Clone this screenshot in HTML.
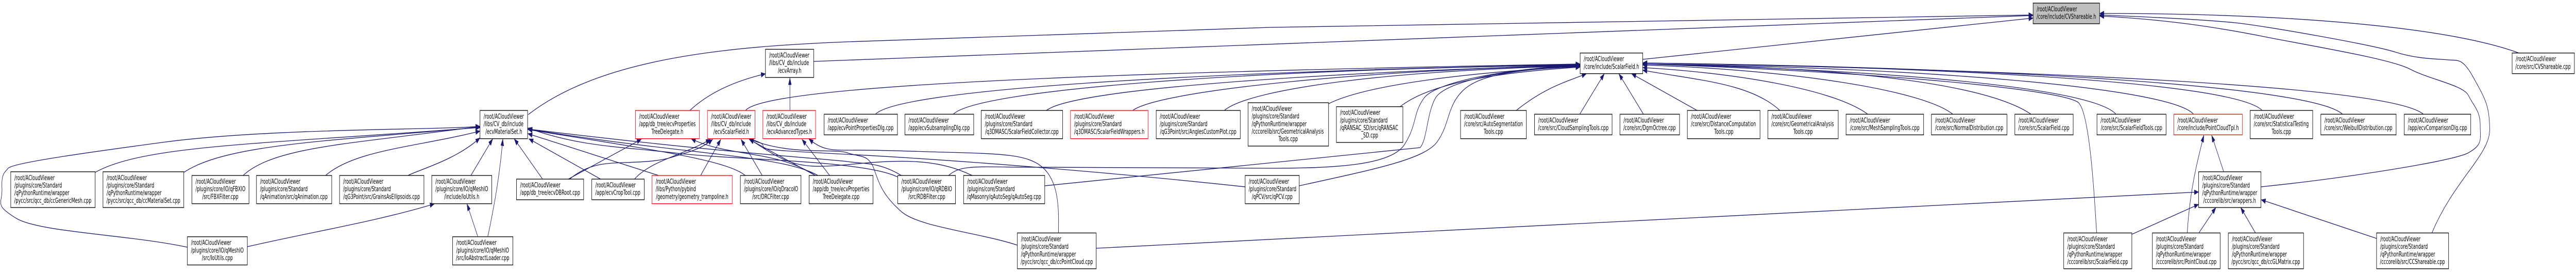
<!DOCTYPE html>
<html><head><meta charset="utf-8"><style>
html,body{margin:0;padding:0;background:#fff;width:100%;height:100%;overflow:hidden}
svg{display:block;width:100vw;height:100vh}
text{font-family:"DejaVu Sans",sans-serif;font-size:12.9px;fill:#000}
.m{text-anchor:middle}
rect{fill:#fff;stroke:#000;stroke-width:1.33}
rect.r{stroke:#f00}
rect.g{fill:#bfbfbf}
#e path{fill:none;stroke:#191970;stroke-width:1.33;marker-end:url(#a)}
</style></head><body>
<svg xmlns="http://www.w3.org/2000/svg" viewBox="0 0 7905 527" preserveAspectRatio="none">
<defs><marker id="a" markerWidth="15" markerHeight="11" refX="13.3" refY="4.7" orient="auto" markerUnits="userSpaceOnUse" overflow="visible"><path d="M0 0L13.3 4.7L0 9.4z" fill="#191970" style="stroke:#191970;stroke-width:.5"/></marker></defs>
<g id="e">
<path d="M292 334C430 285 750 280 1300 255S1420 248 1473 245"/>
<path d="M564 334C680 285 950 275 1300 256S1420 248 1473 246"/>
<path d="M746 340C830 290 1040 280 1300 259S1420 250 1473 247"/>
<path d="M999 340C1090 290 1280 285 1473 254"/>
<path d="M1252 340C1280 330 1400 310 1473 267"/>
<path d="M575 479C400 455 120 450 50 423S8 395 6 366S12 336 25 326S250 297 497 276S1100 252 1300 249S1420 246 1473 245"/>
<path d="M759 478C950 450 1150 430 1333 395"/>
<path d="M1445 340L1512 269"/>
<path d="M1466 458L1433 395"/>
<path d="M1497 458C1520 390 1535 330 1543 269"/>
<path d="M1665 347L1578 269"/>
<path d="M1843 347L1623 269"/>
<path d="M2021 340L1620 259"/>
<path d="M2287 340C2230 310 2000 290 1620 251"/>
<path d="M2510 340C2400 300 2100 300 1620 250"/>
<path d="M2755 343C2650 310 2250 310 2080 297S1780 285 1620 248"/>
<path d="M3821 362C3500 340 3000 312 2600 299S2420 290 2299 269"/>
<path d="M3122 475C3000 450 2820 440 2766 410S2700 360 2683 329S2640 305 2600 296S2420 302 2299 269"/>
<path d="M2983 340C2870 305 2750 310 2600 319S2420 320 2299 269"/>
<path d="M2766 340C2700 315 2660 318 2600 313S2200 295 1620 250"/>
<path d="M3248 451C3250 400 3248 350 3197 323S3050 298 2849 294S2650 291 2600 291S2520 290 2482 269"/>
<path d="M2288 214C2350 165 3400 140 4849 124"/>
<path d="M2687 221C2760 175 3600 140 4849 125"/>
<path d="M2926 221C3000 175 3800 135 4849 126"/>
<path d="M3211 214C3300 170 4100 140 4849 126"/>
<path d="M3476 214C3560 175 4200 135 4849 127"/>
<path d="M3757 214C3840 170 4300 135 4849 128"/>
<path d="M4077 201C4190 165 4500 140 4849 129"/>
<path d="M4296 207C4390 160 4600 140 4849 130"/>
<path d="M4653 214C4740 170 4800 160 4868 143"/>
<path d="M4848 221L4923 143"/>
<path d="M5043 221L4968 143"/>
<path d="M5208 214L5007 143"/>
<path d="M3206 360L4358 286C4380 270 4378 220 4405 190S4600 135 4849 127"/>
<path d="M2911 340C2950 318 3000 324 3180 324L3900 326C4100 326 4270 320 4310 280S4335 220 4370 190S4600 135 4849 126"/>
<path d="M3987 360C4200 330 4370 310 4410 275S4440 205 4490 175S4650 135 4849 128"/>
<path d="M5462 214C5370 160 5200 155 5041 136"/>
<path d="M5731 221C5620 170 5300 140 5041 131"/>
<path d="M5992 221C5900 175 5500 135 5041 126"/>
<path d="M6232 221C6100 165 5700 130 5041 124"/>
<path d="M6493 221C6420 170 5800 135 5041 124"/>
<path d="M6434 451C6425 360 6412 225 6380 200S5800 140 5041 124"/>
<path d="M6731 221C6660 170 5900 130 5041 124"/>
<path d="M6942 214C6860 160 6000 130 5041 122"/>
<path d="M7188 221C7090 165 6100 130 5041 122"/>
<path d="M7436 221C7330 165 6200 135 5041 122"/>
<path d="M5041 115L6239 35"/>
<path d="M1621 222C1850 110 2250 90 2600 81S3400 60 3900 53S5000 38 6239 29"/>
<path d="M2497 119C3000 105 4300 70 6239 30"/>
<path d="M2117 214Q2200 165 2349 143"/>
<path d="M2424 214L2424 151"/>
<path d="M1744 347L1968 270"/>
<path d="M2502 340C2380 290 2240 305 2121 269"/>
<path d="M1748 347C1790 325 1830 318 1880 316S2010 315 2060 305S2150 290 2187 270"/>
<path d="M1947 347C2000 310 2100 300 2180 270"/>
<path d="M2150 340L2212 270"/>
<path d="M2339 340L2274 270"/>
<path d="M2502 340L2299 270"/>
<path d="M2546 340L2461 270"/>
<path d="M6938 362C7200 345 7530 312 7575 296S7611 270 7611 242S7590 205 7575 185S7456 154 7396 134S7100 90 6948 71S6650 38 6443 31"/>
<path d="M7463 451C7530 350 7640 300 7640 252S7625 190 7590 150S7540 118 7512 116S7420 115 7351 101S6950 50 6858 44S6600 33 6443 29"/>
<path d="M7729 102.500C7500 50 7000 26 6443 26"/>
<path d="M6712 451C6720 370 6740 320 6763 262"/>
<path d="M6824 333L6787 262"/>
<path d="M6748 451L6800 402"/>
<path d="M6921 451L6876 402"/>
<path d="M7293 462L6939 387"/>
<path d="M6542 454L6747 396"/>
<path d="M3364 481L6747 372"/>
</g>
<g>
<!-- Row 0 -->
<rect class="g" x="6239" y="6" width="204" height="40"/><text x="6250" y="22">/root/ACloudViewer</text><text class="m" x="6341" y="36.700">/core/include/CVShareable.h</text>
<!-- Row 1 -->
<rect x="4849" y="102.700" width="192" height="40"/><text x="4860" y="118.700">/root/ACloudViewer</text><text class="m" x="4945" y="133.400">/core/include/ScalarField.h</text>
<rect x="7709" y="102.700" width="191" height="40"/><text x="7720" y="118.700">/root/ACloudViewer</text><text class="m" x="7804" y="133.400">/core/src/CVShareable.cpp</text>
<rect x="2349" y="95.500" width="148" height="54.700"/><text x="2360" y="111.500">/root/ACloudViewer</text><text x="2360" y="126.200">/libs/CV_db/include</text><text class="m" x="2423" y="140.900">/ecvArray.h</text>
<!-- Row 2 three line -->
<rect x="1473" y="214" width="146" height="54.700"/><text x="1484" y="230">/root/ACloudViewer</text><text x="1484" y="244.700">/libs/CV_db/include</text><text class="m" x="1546" y="259.400">/ecvMaterialSet.h</text>
<rect class="r" x="1950" y="214" width="196" height="54.700"/><text x="1961" y="230">/root/ACloudViewer</text><text x="1961" y="244.700">/app/db_tree/ecvProperties</text><text class="m" x="2048" y="259.400">TreeDelegate.h</text>
<rect class="r" x="2171" y="214" width="146" height="54.700"/><text x="2182" y="230">/root/ACloudViewer</text><text x="2182" y="244.700">/libs/CV_db/include</text><text class="m" x="2244" y="259.400">/ecvScalarField.h</text>
<rect class="r" x="2341" y="214" width="162" height="54.700"/><text x="2352" y="230">/root/ACloudViewer</text><text x="2352" y="244.700">/libs/CV_db/include</text><text class="m" x="2422" y="259.400">/ecvAdvancedTypes.h</text>
<rect x="3011" y="214" width="250" height="54.700"/><text x="3022" y="230">/root/ACloudViewer</text><text x="3022" y="244.700">/plugins/core/Standard</text><text class="m" x="3136" y="259.400">/q3DMASC/ScalarFieldCollector.cpp</text>
<rect class="r" x="3285" y="214" width="238" height="54.700"/><text x="3296" y="230">/root/ACloudViewer</text><text x="3296" y="244.700">/plugins/core/Standard</text><text class="m" x="3404" y="259.400">/q3DMASC/ScalarFieldWrappers.h</text>
<rect x="3548" y="214" width="258" height="54.700"/><text x="3559" y="230">/root/ACloudViewer</text><text x="3559" y="244.700">/plugins/core/Standard</text><text class="m" x="3677" y="259.400">/qG3Point/src/AnglesCustomPlot.cpp</text>
<rect x="4482" y="214" width="202" height="54.700"/><text x="4493" y="230">/root/ACloudViewer</text><text x="4493" y="244.700">/core/src/AutoSegmentation</text><text class="m" x="4583" y="259.400">Tools.cpp</text>
<rect x="5178" y="214" width="223" height="54.700"/><text x="5189" y="230">/root/ACloudViewer</text><text x="5189" y="244.700">/core/src/DistanceComputation</text><text class="m" x="5290" y="259.400">Tools.cpp</text>
<rect x="5425" y="214" width="216" height="54.700"/><text x="5436" y="230">/root/ACloudViewer</text><text x="5436" y="244.700">/core/src/GeometricalAnalysis</text><text class="m" x="5533" y="259.400">Tools.cpp</text>
<rect x="6905" y="214" width="192" height="54.700"/><text x="6916" y="230">/root/ACloudViewer</text><text x="6916" y="244.700">/core/src/StatisticalTesting</text><text class="m" x="7001" y="259.400">Tools.cpp</text>
<!-- Row 2 two line -->
<rect x="2529" y="221.300" width="225" height="40"/><text x="2540" y="237.300">/root/ACloudViewer</text><text class="m" x="2641" y="252">/app/ecvPointPropertiesDlg.cpp</text>
<rect x="2777" y="221.300" width="211" height="40"/><text x="2788" y="237.300">/root/ACloudViewer</text><text class="m" x="2882" y="252">/app/ecvSubsamplingDlg.cpp</text>
<rect x="4709" y="221.300" width="238" height="40"/><text x="4720" y="237.300">/root/ACloudViewer</text><text class="m" x="4828" y="252">/core/src/CloudSamplingTools.cpp</text>
<rect x="4971" y="221.300" width="183" height="40"/><text x="4982" y="237.300">/root/ACloudViewer</text><text class="m" x="5062" y="252">/core/src/DgmOctree.cpp</text>
<rect x="5665" y="221.300" width="238" height="40"/><text x="5676" y="237.300">/root/ACloudViewer</text><text class="m" x="5784" y="252">/core/src/MeshSamplingTools.cpp</text>
<rect x="5927" y="221.300" width="232" height="40"/><text x="5938" y="237.300">/root/ACloudViewer</text><text class="m" x="6043" y="252">/core/src/NormalDistribution.cpp</text>
<rect x="6183" y="221.300" width="179" height="40"/><text x="6194" y="237.300">/root/ACloudViewer</text><text class="m" x="6272" y="252">/core/src/ScalarField.cpp</text>
<rect x="6435" y="221.300" width="212" height="40"/><text x="6446" y="237.300">/root/ACloudViewer</text><text class="m" x="6541" y="252">/core/src/ScalarFieldTools.cpp</text>
<rect class="r" x="6671" y="221.300" width="210" height="40"/><text x="6682" y="237.300">/root/ACloudViewer</text><text class="m" x="6776" y="252">/core/include/PointCloudTpl.h</text>
<rect x="7122" y="221.300" width="231" height="40"/><text x="7133" y="237.300">/root/ACloudViewer</text><text class="m" x="7237" y="252">/core/src/WeibullDistribution.cpp</text>
<rect x="7378" y="221.300" width="204" height="40"/><text x="7389" y="237.300">/root/ACloudViewer</text><text class="m" x="7480" y="252">/app/ecvComparisonDlg.cpp</text>
<!-- Row 2 five and four line -->
<rect x="3830" y="199" width="247" height="84"/><text x="3841" y="215">/root/ACloudViewer</text><text x="3841" y="229.700">/plugins/core/Standard</text><text x="3841" y="244.400">/qPythonRuntime/wrapper</text><text x="3841" y="259">/cccorelib/src/GeometricalAnalysis</text><text class="m" x="3953" y="273.700">Tools.cpp</text>
<rect x="4101" y="206.700" width="204" height="69.300"/><text x="4112" y="222.700">/root/ACloudViewer</text><text x="4112" y="237.400">/plugins/core/Standard</text><text x="4112" y="252">/qRANSAC_SD/src/qRANSAC</text><text class="m" x="4203" y="266.700">_SD.cpp</text>
<!-- Row 3 four line -->
<rect x="33" y="332.800" width="259" height="69.300"/><text x="44" y="348.800">/root/ACloudViewer</text><text x="44" y="363.500">/plugins/core/Standard</text><text x="44" y="378.200">/qPythonRuntime/wrapper</text><text class="m" x="162" y="392.900">/pycc/src/qcc_db/ccGenericMesh.cpp</text>
<rect x="316" y="332.800" width="248" height="69.300"/><text x="327" y="348.800">/root/ACloudViewer</text><text x="327" y="363.500">/plugins/core/Standard</text><text x="327" y="378.200">/qPythonRuntime/wrapper</text><text class="m" x="440" y="392.900">/pycc/src/qcc_db/ccMaterialSet.cpp</text>
<rect x="6747" y="332.800" width="191" height="69.300"/><text x="6758" y="348.800">/root/ACloudViewer</text><text x="6758" y="363.500">/plugins/core/Standard</text><text x="6758" y="378.200">/qPythonRuntime/wrapper</text><text class="m" x="6842" y="392.900">/cccorelib/src/wrappers.h</text>
<!-- Row 3 three line -->
<rect x="589" y="340" width="175" height="54.700"/><text x="600" y="356">/root/ACloudViewer</text><text x="600" y="370.700">/plugins/core/IO/qFBXIO</text><text class="m" x="676" y="385.400">/src/FBXFilter.cpp</text>
<rect x="787" y="340" width="231" height="54.700"/><text x="798" y="356">/root/ACloudViewer</text><text x="798" y="370.700">/plugins/core/Standard</text><text class="m" x="902" y="385.400">/qAnimation/src/qAnimation.cpp</text>
<rect x="1042" y="340" width="259" height="54.700"/><text x="1053" y="356">/root/ACloudViewer</text><text x="1053" y="370.700">/plugins/core/Standard</text><text class="m" x="1171" y="385.400">/qG3Point/src/GrainsAsEllipsoids.cpp</text>
<rect x="1325" y="340" width="184" height="54.700"/><text x="1336" y="356">/root/ACloudViewer</text><text x="1336" y="370.700">/plugins/core/IO/qMeshIO</text><text class="m" x="1417" y="385.400">/include/IoUtils.h</text>
<rect class="r" x="2001" y="340" width="246" height="54.700"/><text x="2012" y="356">/root/ACloudViewer</text><text x="2012" y="370.700">/libs/Python/pybind</text><text class="m" x="2124" y="385.400">/geometry/geometry_trampoline.h</text>
<rect x="2272" y="340" width="186" height="54.700"/><text x="2283" y="356">/root/ACloudViewer</text><text x="2283" y="370.700">/plugins/core/IO/qDracoIO</text><text class="m" x="2365" y="385.400">/src/DRCFilter.cpp</text>
<rect x="2483" y="340" width="196" height="54.700"/><text x="2494" y="356">/root/ACloudViewer</text><text x="2494" y="370.700">/app/db_tree/ecvProperties</text><text class="m" x="2581" y="385.400">TreeDelegate.cpp</text>
<rect x="2755" y="340" width="177" height="54.700"/><text x="2766" y="356">/root/ACloudViewer</text><text x="2766" y="370.700">/plugins/core/IO/qRDBIO</text><text class="m" x="2844" y="385.400">/src/RDBFilter.cpp</text>
<rect x="2957" y="340" width="249" height="54.700"/><text x="2968" y="356">/root/ACloudViewer</text><text x="2968" y="370.700">/plugins/core/Standard</text><text class="m" x="3081" y="385.400">/qMasonry/qAutoSeg/qAutoSeg.cpp</text>
<rect x="3821" y="340" width="166" height="54.700"/><text x="3832" y="356">/root/ACloudViewer</text><text x="3832" y="370.700">/plugins/core/Standard</text><text class="m" x="3904" y="385.400">/qPCV/src/qPCV.cpp</text>
<!-- Row 3 two line -->
<rect x="1585" y="347" width="206" height="40"/><text x="1596" y="363">/root/ACloudViewer</text><text class="m" x="1688" y="377.700">/app/db_tree/ecvDBRoot.cpp</text>
<rect x="1816" y="347" width="161" height="40"/><text x="1827" y="363">/root/ACloudViewer</text><text class="m" x="1896" y="377.700">/app/ecvCropTool.cpp</text>
<!-- Row 4 three line -->
<rect x="575" y="458.700" width="184" height="54.700"/><text x="586" y="474.700">/root/ACloudViewer</text><text x="586" y="489.400">/plugins/core/IO/qMeshIO</text><text class="m" x="667" y="504">/src/IoUtils.cpp</text>
<rect x="1389" y="458.700" width="185" height="54.700"/><text x="1400" y="474.700">/root/ACloudViewer</text><text x="1400" y="489.400">/plugins/core/IO/qMeshIO</text><text class="m" x="1481" y="504">/src/IoAbstractLoader.cpp</text>
<!-- Row 4 four line -->
<rect x="3122" y="451.400" width="242" height="69.300"/><text x="3133" y="467.400">/root/ACloudViewer</text><text x="3133" y="482">/plugins/core/Standard</text><text x="3133" y="496.800">/qPythonRuntime/wrapper</text><text class="m" x="3243" y="511.500">/pycc/src/qcc_db/ccPointCloud.cpp</text>
<rect x="6333" y="451.400" width="209" height="69.300"/><text x="6344" y="467.400">/root/ACloudViewer</text><text x="6344" y="482">/plugins/core/Standard</text><text x="6344" y="496.800">/qPythonRuntime/wrapper</text><text class="m" x="6437" y="511.500">/cccorelib/src/ScalarField.cpp</text>
<rect x="6605" y="451.400" width="208" height="69.300"/><text x="6616" y="467.400">/root/ACloudViewer</text><text x="6616" y="482">/plugins/core/Standard</text><text x="6616" y="496.800">/qPythonRuntime/wrapper</text><text class="m" x="6709" y="511.500">/cccorelib/src/PointCloud.cpp</text>
<rect x="6838" y="451.400" width="231" height="69.300"/><text x="6849" y="467.400">/root/ACloudViewer</text><text x="6849" y="482">/plugins/core/Standard</text><text x="6849" y="496.800">/qPythonRuntime/wrapper</text><text class="m" x="6953" y="511.500">/pycc/src/qcc_db/ccGLMatrix.cpp</text>
<rect x="7293" y="451.400" width="221" height="69.300"/><text x="7304" y="467.400">/root/ACloudViewer</text><text x="7304" y="482">/plugins/core/Standard</text><text x="7304" y="496.800">/qPythonRuntime/wrapper</text><text class="m" x="7403" y="511.500">/cccorelib/src/CCShareable.cpp</text>
</g>
</svg>
</body></html>
